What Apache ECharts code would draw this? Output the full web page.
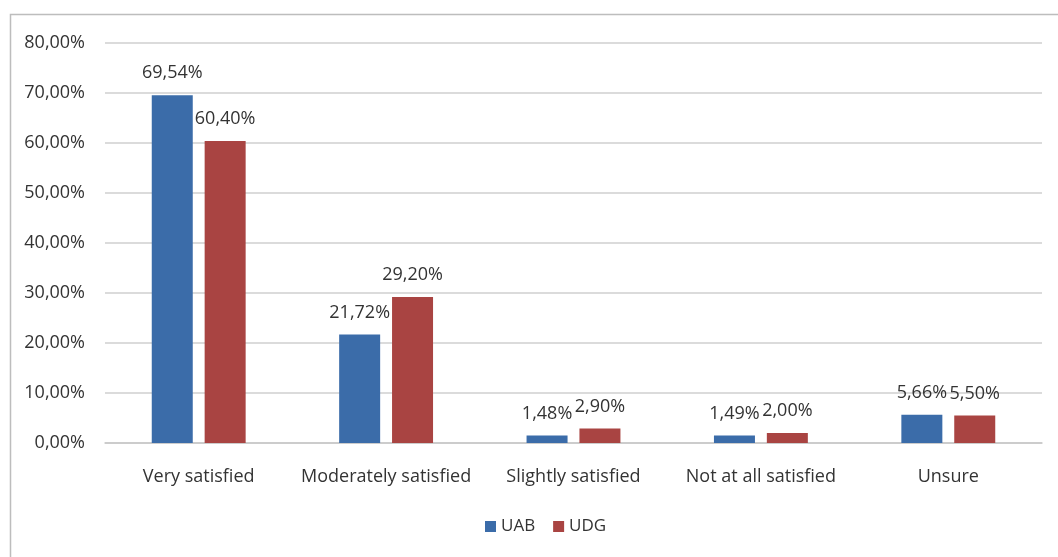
<!DOCTYPE html>
<html>
<head>
<meta charset="utf-8">
<script src="https://cdn.jsdelivr.net/npm/echarts@6/dist/echarts.min.js"></script>
<style>
  html, body { margin: 0; padding: 0; background: #ffffff; }
  #chart { width: 1058px; height: 557px; }
</style>
</head>
<body>
<div id="chart"></div>
<script>
const categories = ["Very satisfied", "Moderately satisfied", "Slightly satisfied", "Not at all satisfied", "Unsure"];
const uabValues = [69.54, 21.72, 1.48, 1.49, 5.66];
const udgValues = [60.40, 29.20, 2.90, 2.00, 5.50];

const pct = (v) => v.toFixed(2).replace(".", ",") + "%";
const FONT = "'Open Sans', 'Liberation Sans', sans-serif";

const chart = echarts.init(document.getElementById("chart"));
chart.setOption({
  animation: false,
  textStyle: { fontFamily: FONT },
  graphic: [
    {
      type: "rect",
      shape: { x: 10.5, y: 14.5, width: 1100, height: 600 },
      style: { fill: "none", stroke: "#bdbdbd", lineWidth: 1.5 },
      silent: true,
    },
  ],
  grid: { left: 105, right: 16, top: 43, bottom: 114 },
  legend: {
    bottom: 17,
    left: 480,
    itemWidth: 11,
    itemHeight: 11,
    itemGap: 18,
    icon: "rect",
    textStyle: { color: "#333", fontSize: 17, fontFamily: FONT },
    data: ["UAB", "UDG"],
  },
  xAxis: {
    type: "category",
    data: categories,
    axisTick: { show: false },
    axisLine: { lineStyle: { color: "#c8c8c8", width: 1.5 } },
    axisLabel: { color: "#333", fontSize: 18, margin: 25, interval: 0, fontFamily: FONT },
  },
  yAxis: {
    type: "value",
    min: 0,
    max: 80,
    interval: 10,
    axisLine: { show: false },
    axisTick: { show: false },
    splitLine: { lineStyle: { color: "#cfcfcf", width: 1.5 } },
    axisLabel: { color: "#333", fontSize: 18, margin: 20, formatter: pct, fontFamily: FONT },
  },
  series: [
    {
      name: "UAB",
      type: "bar",
      data: uabValues,
      barWidth: 41,
      barGap: "29%",
      itemStyle: { color: "#3b6ca9" },
      label: {
        show: true,
        position: "top",
        distance: 13,
        color: "#333",
        fontSize: 18,
        fontFamily: FONT,
        formatter: (p) => pct(p.value),
      },
    },
    {
      name: "UDG",
      type: "bar",
      data: udgValues,
      barWidth: 41,
      barGap: "29%",
      itemStyle: { color: "#a94442" },
      label: {
        show: true,
        position: "top",
        distance: 13,
        color: "#333",
        fontSize: 18,
        fontFamily: FONT,
        formatter: (p) => pct(p.value),
      },
    },
  ],
});
</script>
</body>
</html>
